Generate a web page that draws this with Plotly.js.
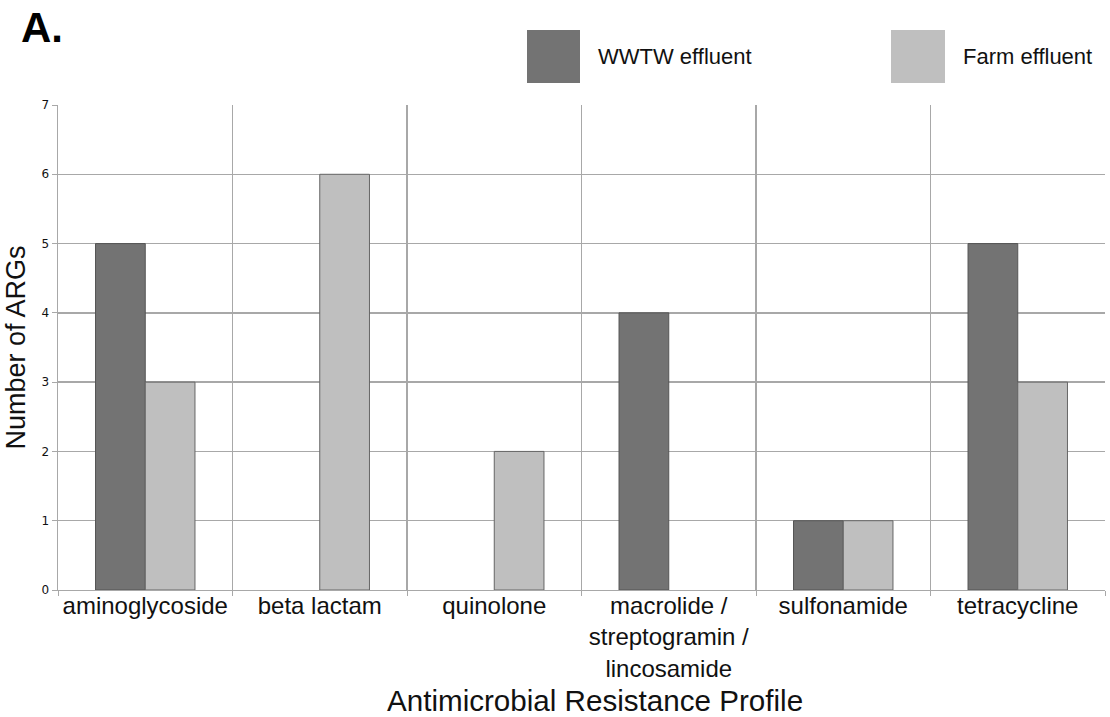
<!DOCTYPE html>
<html>
<head>
<meta charset="utf-8">
<script src="https://cdn.plot.ly/plotly-3.0.1.min.js"></script>
<style>html,body{margin:0;padding:0;background:#fff;}#chart{width:1110px;height:717px;}</style>
</head>
<body>
<div id="chart"></div>
<script>
const categories = ["aminoglycoside", "beta lactam", "quinolone", "macrolide /<br>streptogramin /<br>lincosamide", "sulfonamide", "tetracycline"];
const wwtwValues = [5, null, null, 4, 1, 5];
const farmValues = [3, 6, 2, null, 1, 3];
const seriesNames = ["WWTW effluent", "Farm effluent"];
const yTicks = [0, 1, 2, 3, 4, 5, 6, 7];
const xTitle = "Antimicrobial Resistance Profile";

const traces = [
  {type: "bar", name: seriesNames[0], x: categories, y: wwtwValues,
   marker: {color: "#737373", line: {color: "#555555", width: 1}}},
  {type: "bar", name: seriesNames[1], x: categories, y: farmValues,
   marker: {color: "#bfbfbf", line: {color: "#666666", width: 1}}}
];

const layout = {
  width: 1110, height: 717,
  margin: {l: 58, r: 5, t: 105, b: 127},
  paper_bgcolor: "#fff", plot_bgcolor: "#fff",
  barmode: "group", bargap: 0.43, bargroupgap: 0,
  showlegend: false,
  font: {family: "Liberation Sans, Arial, sans-serif", color: "#111"},
  xaxis: {
    type: "category", tickson: "boundaries",
    showgrid: true, gridcolor: "#a8a8a8", gridwidth: 1.4,
    ticks: "outside", ticklen: 5, tickcolor: "#a8a8a8",
    showline: true, linecolor: "#a8a8a8", linewidth: 1.4,
    tickfont: {size: 24, color: "#111"},
    ticklabelstandoff: -6,
    automargin: false
  },
  yaxis: {
    range: [0, 7], tickvals: yTicks, ticktext: yTicks.map(String),
    showgrid: true, gridcolor: "#a8a8a8", gridwidth: 1.4,
    ticks: "outside", ticklen: 5, tickcolor: "#a8a8a8",
    showline: true, linecolor: "#a8a8a8", linewidth: 1.4,
    zeroline: false,
    tickfont: {size: 12, family: "DejaVu Sans, sans-serif", color: "#111"},
    title: {text: "Number of ARGs", font: {size: 27, color: "#111"}, standoff: 8},
    automargin: false
  },
  shapes: [
    {type: "rect", xref: "paper", yref: "paper", x0: (527-58)/1047, x1: (580-58)/1047, y0: (590-83)/485, y1: (590-30)/485,
     fillcolor: "#737373", line: {width: 0}},
    {type: "rect", xref: "paper", yref: "paper", x0: (891-58)/1047, x1: (945-58)/1047, y0: (590-83)/485, y1: (590-30)/485,
     fillcolor: "#bfbfbf", line: {width: 0}}
  ],
  annotations: [
    {xref: "paper", yref: "paper", x: (595-58)/1047, y: (590-700)/485, xanchor: "center", yanchor: "middle",
     text: xTitle, showarrow: false, font: {size: 29.6, color: "#111"}},
    {xref: "paper", yref: "paper", x: (596-58)/1047, y: (590-57)/485, xanchor: "left", yanchor: "middle",
     text: seriesNames[0], showarrow: false, font: {size: 22, color: "#111"}},
    {xref: "paper", yref: "paper", x: (961-58)/1047, y: (590-57)/485, xanchor: "left", yanchor: "middle",
     text: seriesNames[1], showarrow: false, font: {size: 22, color: "#111"}},
    {xref: "paper", yref: "paper", x: (19-58)/1047, y: (590-28)/485, xanchor: "left", yanchor: "middle",
     text: "<b>A.</b>", showarrow: false, font: {size: 42, color: "#000"}}
  ]
};

Plotly.newPlot("chart", traces, layout, {displayModeBar: false, staticPlot: true});
</script>
</body>
</html>
